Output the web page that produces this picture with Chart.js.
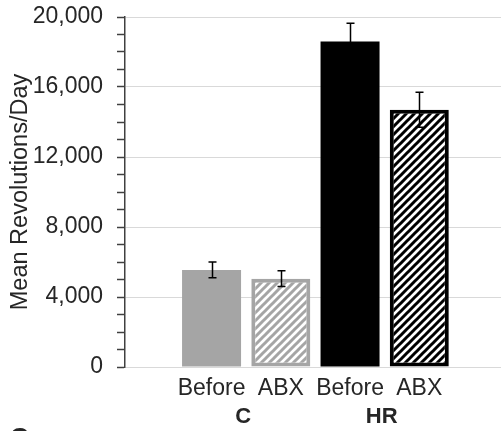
<!DOCTYPE html>
<html>
<head>
<meta charset="utf-8">
<script src="https://cdn.jsdelivr.net/npm/chart.js@4/dist/chart.umd.min.js"></script>
<style>
  html, body { margin: 0; padding: 0; background: #fff; overflow: hidden; }
  canvas { display: block; }
</style>
</head>
<body>
<canvas id="chart" width="501" height="431"></canvas>
<script>
// Wheel-running activity, before and after antibiotics, for two lines (C and HR)
const categories = ['Before', 'ABX', 'Before', 'ABX'];
const groups = ['C', 'HR'];
const meanRevolutions = [5550, 5050, 18600, 14700];
const errorMargins = [450, 450, 1050, 1000];
const yTickValues = [0, 4000, 8000, 12000, 16000, 20000];

const FONT = "'Liberation Sans', Arial, sans-serif";
const TEXT = '#262626';
const GREY = '#a5a5a5';

// Diagonal hatch ("/") fill for the antibiotic bars
function hatch(color) {
  const c = document.createElement('canvas');
  c.width = 8; c.height = 8;
  const g = c.getContext('2d');
  g.fillStyle = '#fff';
  g.fillRect(0, 0, 8, 8);
  g.strokeStyle = color;
  g.lineWidth = 3;
  g.beginPath();
  g.moveTo(-2, 10); g.lineTo(10, -2);
  g.moveTo(-6, 6); g.lineTo(6, -6);
  g.moveTo(2, 14); g.lineTo(14, 2);
  g.stroke();
  return g.createPattern(c, 'repeat');
}

const ctx = document.getElementById('chart').getContext('2d');

const fills = [GREY, hatch(GREY), '#000', hatch('#000')];
const borders = [GREY, GREY, '#000', '#000'];
const borderWidths = [0, 4, 0, 4];

// Error bars (mean ± margin) drawn on top of the bars
const errorBarPlugin = {
  id: 'errorBars',
  afterDatasetsDraw(chart) {
    const xs = chart.scales.x, ys = chart.scales.y;
    const c = chart.ctx;
    c.save();
    c.strokeStyle = '#000';
    c.lineWidth = 1.5;
    meanRevolutions.forEach((v, i) => {
      const x = Math.round(xs.getPixelForValue(i + 1)) + 0.5;
      const top = ys.getPixelForValue(v + errorMargins[i]);
      const bot = ys.getPixelForValue(v - errorMargins[i]);
      c.beginPath();
      c.moveTo(x, top); c.lineTo(x, bot);
      c.moveTo(x - 4, top); c.lineTo(x + 4, top);
      c.moveTo(x - 4, bot); c.lineTo(x + 4, bot);
      c.stroke();
    });
    c.restore();
  }
};

// Group names under the category labels, plus the next panel's letter
const groupLabelPlugin = {
  id: 'groupLabels',
  afterDraw(chart) {
    const xs = chart.scales.x;
    const c = chart.ctx;
    c.save();
    c.fillStyle = TEXT;
    c.font = 'bold 22px ' + FONT;
    c.textAlign = 'center';
    c.textBaseline = 'alphabetic';
    groups.forEach((g, i) => {
      c.fillText(g, xs.getPixelForValue(2 * i + 1.5) - 3, 423);
    });
    c.font = 'bold 26px ' + FONT;
    c.textAlign = 'left';
    c.fillText('C', 10, 446);
    c.restore();
  }
};

new Chart(ctx, {
  type: 'bar',
  data: {
    datasets: [{
      data: meanRevolutions.map((v, i) => ({ x: i + 1, y: v })),
      backgroundColor: fills,
      borderColor: borders,
      borderWidth: borderWidths,
      borderSkipped: false,
      inflateAmount: 0,
      barThickness: 59
    }]
  },
  options: {
    responsive: false,
    animation: false,
    events: [],
    layout: { padding: { top: 17, right: 0, left: 0, bottom: 0 } },
    plugins: { legend: { display: false }, tooltip: { enabled: false } },
    scales: {
      x: {
        type: 'linear',
        offset: false,
        min: -0.25,
        max: 5.18,
        grid: { display: false, drawTicks: false },
        border: { display: false },
        afterBuildTicks(scale) {
          scale.ticks = categories.map((_, i) => ({ value: i + 1 }));
        },
        afterFit(scale) {
          scale.height = 64;
          scale.paddingLeft = 0;
          scale.paddingRight = 0;
        },
        ticks: {
          autoSkip: false,
          maxRotation: 0,
          padding: 8,
          color: TEXT,
          font: { family: FONT, size: 23 },
          callback: (v) => categories[Math.round(v) - 1] || ''
        }
      },
      y: {
        min: 0,
        max: 20000,
        afterBuildTicks(scale) {
          const t = [];
          for (let v = 0; v <= 20000; v += 1000) t.push({ value: v });
          scale.ticks = t;
        },
        afterFit(scale) {
          scale.width = 125;
          scale.paddingTop = 0;
          scale.paddingBottom = 0;
        },
        grid: {
          color: (c) => yTickValues.includes(c.tick.value) ? '#d9d9d9' : 'rgba(0,0,0,0)',
          lineWidth: 1,
          tickColor: '#404040',
          tickLength: 8,
          tickWidth: 1.5
        },
        border: { color: '#404040', width: 1.5 },
        ticks: {
          autoSkip: false,
          padding: 14,
          color: TEXT,
          font: { family: FONT, size: 23 },
          callback: (v) => yTickValues.includes(v) ? v.toLocaleString('en-US') : ''
        },
        title: {
          display: true,
          text: 'Mean Revolutions/Day',
          color: TEXT,
          font: { family: FONT, size: 23.5 },
          padding: { top: 6, bottom: 0 }
        }
      }
    }
  },
  plugins: [errorBarPlugin, groupLabelPlugin]
});
</script>
</body>
</html>
